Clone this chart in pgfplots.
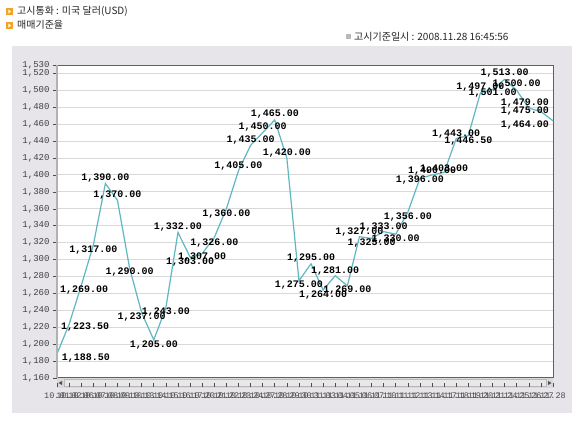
\documentclass[border=0pt]{standalone}
\usepackage{pgfplots}
\pgfplotsset{compat=1.18}
\usepackage{pgfplotstable}
\usepackage{fontspec}
\setmainfont{Liberation Sans}
\newfontfamily\kr{Noto Sans CJK KR}
\newfontfamily\mono{Liberation Mono}
\definecolor{panel}{HTML}{E7E5E9}
\definecolor{fx}{HTML}{5FB7C2}
\definecolor{icon}{HTML}{F2A32A}

% index, rate, label shift (bp)
\pgfplotstableread{
x y dx dy
0 1188.50 29 -4
1 1223.50 16 -3
2 1269.00 3 -4
3 1317.00 0 -5
4 1390.00 0 5
5 1370.00 0 5
6 1290.00 0 -4
7 1237.00 0 -4
8 1205.00 0 -5
9 1243.00 0 -4
10 1332.00 0 5
11 1303.00 0 -5
12 1307.00 0 -3
13 1326.00 0 -5
14 1360.00 0 -5
15 1405.00 0 5
16 1435.00 0 5
17 1450.00 0 6
18 1465.00 0 6
19 1420.00 0 5
20 1275.00 0 -4
21 1295.00 0 6
22 1264.00 0 -5
23 1281.00 0 5
24 1269.00 0 -4
25 1327.00 0 5
26 1325.00 0 -5
27 1333.00 0 5
28 1330.00 0 -5
29 1356.00 0 -5
30 1396.00 0 -2
31 1400.00 0 4
32 1403.00 0 3
33 1443.00 0 5
34 1446.50 0 -5
35 1497.00 0 6
36 1501.00 0 -4
37 1513.00 0 6
38 1500.00 0 6
39 1479.00 -4 5
40 1475.00 -16 0
41 1464.00 -28 -4
}\fxdata

\begin{document}
\begin{tikzpicture}
\useasboundingbox (0,0) rectangle (578bp,424bp);
\fill[white] (0,0) rectangle (578bp,424bp);
\fill[panel] (12bp,11bp) rectangle (572bp,378bp);

% header
\fill[icon] (6bp,409bp) rectangle (13bp,416bp);
\fill[white] (8.3bp,410.5bp) -- (11bp,412.5bp) -- (8.3bp,414.5bp) -- cycle;
\node[anchor=west, inner sep=0, font=\kr\fontsize{10bp}{12bp}\selectfont, text=black!85] at (17bp,413bp) {고시통화 : 미국 달러(USD)};
\fill[icon] (6bp,395bp) rectangle (13bp,402bp);
\fill[white] (8.3bp,396.5bp) -- (11bp,398.5bp) -- (8.3bp,400.5bp) -- cycle;
\node[anchor=west, inner sep=0, font=\kr\fontsize{10bp}{12bp}\selectfont, text=black!85] at (17bp,399bp) {매매기준율};
\fill[gray!55] (346bp,385bp) rectangle (351bp,390bp);
\node[anchor=west, inner sep=0, font=\kr\fontsize{10bp}{12bp}\selectfont, text=black!85] at (354bp,387bp) {고시기준일시 : 2008.11.28 16:45:56};

% scroll band under the plot
\fill[gray!30] (57bp,36bp) rectangle (553bp,46bp);
\draw[gray!55, fill=gray!18] (64bp,37.5bp) rectangle (546bp,44.5bp);
\fill[black!70] (58.5bp,41bp) -- (62bp,43bp) -- (62bp,39bp) -- cycle;
\fill[black!70] (551.5bp,41bp) -- (548bp,43bp) -- (548bp,39bp) -- cycle;

\begin{axis}[
  at={(57bp,46bp)}, anchor=south west,
  scale only axis, width=496bp, height=313bp,
  xmin=0, xmax=41, ymin=1160, ymax=1530,
  axis background/.style={fill=white},
  axis line style={draw=gray!75!black, line width=1bp},
  ytick={1160,1180,...,1520,1530},
  xtick={0,...,41},
  xticklabels={10.01,10.02,10.06,10.07,10.08,10.09,10.10,10.13,10.14,10.15,10.16,10.17,10.20,10.21,10.22,10.23,10.24,10.27,10.28,10.29,10.30,10.31,11.03,11.04,11.05,11.06,11.07,11.10,11.11,11.12,11.13,11.14,11.17,11.18,11.19,11.20,11.21,11.24,11.25,11.26,11.27,11.28},
  ymajorgrids, major grid style={draw=gray!30, line width=1bp},
  tick align=outside, major tick length=4bp,
  ytick style={draw=black!70, line width=0.6bp},
  xtick style={draw=black!70, line width=0.6bp, yshift=-5bp},
  xtick pos=bottom, ytick pos=left,
  yticklabel style={font=\mono\fontsize{9bp}{10bp}\selectfont, text=black!75,
    /pgf/number format/1000 sep={,}, /pgf/number format/assume math mode=true},
  xticklabel style={font=\mono\fontsize{8.5bp}{9bp}\selectfont, text=black!70, yshift=-7bp},
  clip=false,
]
\addplot[fx, line width=1.2bp, mark=none,
  nodes near coords={\pgfmathprintnumber[fixed,fixed zerofill,precision=2,1000 sep={,},assume math mode=true]{\pgfplotspointmeta}},
  point meta=\thisrow{y},
  visualization depends on={\thisrow{dx} \as \dx},
  visualization depends on={\thisrow{dy} \as \dy},
  nodes near coords style={anchor=center, xshift=\dx bp, yshift=\dy bp, inner sep=0pt,
    font=\mono\bfseries\fontsize{10bp}{11bp}\selectfont, text=black},
] table[x=x, y=y] {\fxdata};
\end{axis}
\draw[gray!60, line width=2.5bp] (57bp,46bp) -- (57bp,359bp);
\end{tikzpicture}
\end{document}
